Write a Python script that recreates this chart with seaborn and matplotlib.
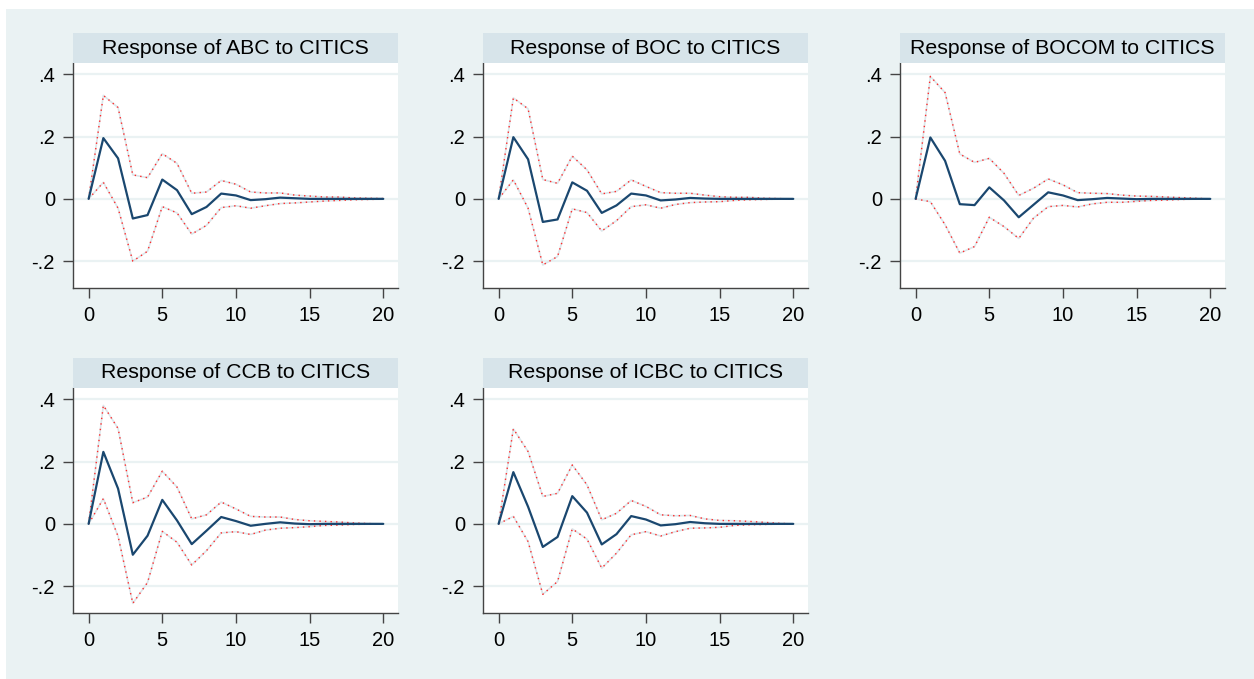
import numpy as np
import pandas as pd
import matplotlib.pyplot as plt
from matplotlib.patches import Rectangle
import seaborn as sns

steps = list(range(21))
banks = ['ABC', 'BOC', 'BOCOM', 'CCB', 'ICBC']

# impulse responses (irf) with lower / upper confidence bands
irf_abc = [0, 0.195, 0.130, -0.063, -0.052, 0.062, 0.028, -0.049, -0.026, 0.017, 0.011,
           -0.004, -0.001, 0.004, 0.002, 0, 0, 0, 0, 0, 0]
lo_abc = [0, 0.053, -0.030, -0.200, -0.168, -0.025, -0.045, -0.113, -0.085, -0.028, -0.022,
          -0.030, -0.022, -0.015, -0.013, -0.010, -0.007, -0.005, -0.003, -0.002, -0.001]
hi_abc = [0, 0.332, 0.293, 0.077, 0.068, 0.145, 0.114, 0.018, 0.022, 0.059, 0.047,
          0.022, 0.019, 0.019, 0.012, 0.009, 0.006, 0.006, 0.003, 0.002, 0.001]

irf_boc = [0, 0.198, 0.127, -0.074, -0.066, 0.053, 0.026, -0.045, -0.021, 0.017, 0.011,
           -0.005, -0.002, 0.003, 0.001, 0, 0, 0, 0, 0, 0]
lo_boc = [0, 0.061, -0.030, -0.212, -0.185, -0.032, -0.044, -0.103, -0.070, -0.025, -0.019,
          -0.030, -0.018, -0.012, -0.010, -0.009, -0.005, -0.003, -0.002, -0.001, 0]
hi_boc = [0, 0.324, 0.289, 0.062, 0.050, 0.137, 0.093, 0.016, 0.024, 0.061, 0.040,
          0.020, 0.018, 0.018, 0.012, 0.007, 0.005, 0.005, 0.002, 0.001, 0]

irf_bocom = [0, 0.197, 0.122, -0.017, -0.020, 0.037, -0.005, -0.059, -0.019, 0.021, 0.011,
             -0.004, -0.001, 0.003, 0.001, -0.001, 0, 0, 0, 0, 0]
lo_bocom = [0, -0.009, -0.083, -0.174, -0.153, -0.059, -0.089, -0.127, -0.062, -0.025, -0.021,
            -0.026, -0.016, -0.011, -0.011, -0.008, -0.005, -0.004, -0.002, -0.001, 0]
hi_bocom = [0, 0.393, 0.341, 0.144, 0.117, 0.130, 0.082, 0.011, 0.034, 0.064, 0.045,
            0.020, 0.018, 0.017, 0.012, 0.009, 0.008, 0.006, 0.004, 0.002, 0]

irf_ccb = [0, 0.231, 0.113, -0.099, -0.038, 0.077, 0.011, -0.065, -0.022, 0.022, 0.009,
           -0.006, 0, 0.005, 0.001, -0.001, 0, 0, 0, 0, 0]
lo_ccb = [0, 0.081, -0.040, -0.255, -0.188, -0.024, -0.059, -0.132, -0.086, -0.029, -0.025,
          -0.034, -0.020, -0.014, -0.012, -0.009, -0.005, -0.004, -0.002, -0.001, 0]
hi_ccb = [0, 0.380, 0.306, 0.068, 0.086, 0.169, 0.118, 0.016, 0.029, 0.070, 0.048,
          0.024, 0.022, 0.022, 0.014, 0.010, 0.008, 0.006, 0.003, 0.001, 0]

irf_icbc = [0, 0.166, 0.055, -0.074, -0.042, 0.089, 0.036, -0.066, -0.033, 0.025, 0.014,
            -0.005, -0.001, 0.006, 0.002, 0, 0, 0, 0, 0, 0]
lo_icbc = [0, 0.024, -0.057, -0.226, -0.185, -0.016, -0.049, -0.142, -0.094, -0.035, -0.025,
           -0.039, -0.025, -0.014, -0.013, -0.011, -0.005, -0.003, -0.002, -0.001, 0]
hi_icbc = [0, 0.305, 0.232, 0.088, 0.098, 0.189, 0.125, 0.013, 0.034, 0.075, 0.056,
           0.029, 0.026, 0.027, 0.016, 0.011, 0.010, 0.008, 0.005, 0.002, 0]

irfs = [irf_abc, irf_boc, irf_bocom, irf_ccb, irf_icbc]
lows = [lo_abc, lo_boc, lo_bocom, lo_ccb, lo_icbc]
highs = [hi_abc, hi_boc, hi_bocom, hi_ccb, hi_icbc]

y_ticks = [-0.2, 0, 0.2, 0.4]
y_labels = ['-.2', '0', '.2', '.4']
x_ticks = [0, 5, 10, 15, 20]

bg = '#EAF2F3'
strip = '#D7E4EA'
navy = '#1A476F'

sns.set_theme(style='white')
plt.rcParams['font.family'] = ['Liberation Sans', 'DejaVu Sans']

W, H = 1254, 679
fig = plt.figure(figsize=(W / 100, H / 100), dpi=100, facecolor='white')
fig.patches.append(Rectangle((6 / W, 0), 1, 1 - 9 / H, transform=fig.transFigure,
                             facecolor=bg, edgecolor='none', zorder=-10))

# pixel boxes: left, top of plot area, width, height
col_left = [73, 483, 900]
row_top = [63, 388]
ax_w, ax_h = 325, 225
strip_h = 30

for i, bank in enumerate(banks):
    r, c = divmod(i, 3)
    left = col_left[c]
    top = row_top[r]
    ax = fig.add_axes([left / W, 1 - (top + ax_h) / H, ax_w / W, ax_h / H])
    ax.set_facecolor('white')

    df = pd.DataFrame({'step': steps, 'irf': irfs[i], 'lo': lows[i], 'hi': highs[i]})
    for col in ['lo', 'hi']:
        sns.lineplot(data=df, x='step', y=col, ax=ax, color='#DCE6EA', lw=1.2, zorder=2)
        sns.lineplot(data=df, x='step', y=col, ax=ax, color='#FF2A2A', lw=1.0,
                     linestyle=(0, (1, 3)), zorder=3)
    sns.lineplot(data=df, x='step', y='irf', ax=ax, color=navy, lw=1.6, zorder=4)

    ax.set_xlim(-1.06, 21.0)
    ax.set_ylim(-0.286, 0.436)
    ax.set_yticks(y_ticks)
    ax.set_yticklabels(y_labels)
    ax.set_xticks(x_ticks)
    ax.set_xlabel('')
    ax.set_ylabel('')
    for y in y_ticks:
        ax.axhline(y, color=bg, lw=1.6, zorder=1)
    ax.tick_params(axis='both', direction='out', length=7, width=1, color='#444444',
                   labelsize=14.5, labelcolor='black', pad=6, left=True, bottom=True)
    for side in ['top', 'right']:
        ax.spines[side].set_visible(False)
    for side in ['left', 'bottom']:
        ax.spines[side].set_color('#444444')
        ax.spines[side].set_linewidth(1.0)

    sh = strip_h / ax_h
    ax.add_patch(Rectangle((0, 1), 1, sh, transform=ax.transAxes, facecolor=strip,
                           edgecolor='none', clip_on=False, zorder=5))
    ax.text(0.5, 1 + sh / 2, f'Response of {bank} to CITICS', transform=ax.transAxes,
            ha='center', va='center', fontsize=15.3, color='black', zorder=6)

fig.savefig('out.png', dpi=100, facecolor='white')
